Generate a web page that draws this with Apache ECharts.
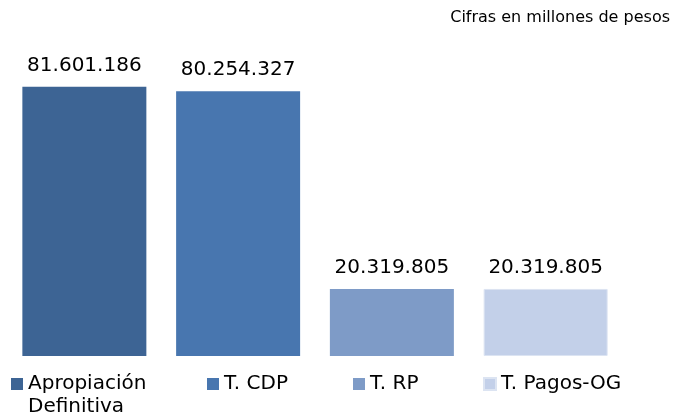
<!DOCTYPE html>
<html><head><meta charset="utf-8">
<script src="https://cdn.jsdelivr.net/npm/echarts@6/dist/echarts.min.js"></script>
<style>html,body{margin:0;padding:0;background:#fff}#c{width:673px;height:415px}</style>
</head><body><div id="c"></div>
<script>
const categories = ['Ejecución'];
const seriesNames = ['Apropiación Definitiva', 'T. CDP', 'T. RP', 'T. Pagos-OG'];
const seriesValues = [81601186, 80254327, 20319805, 20319805];
const valueLabels = ['81.601.186', '80.254.327', '20.319.805', '20.319.805'];
const colors = ['#3D6494', '#4876AF', '#7E9BC7', '#C3D0E9'];
const legendLeft = [11, 207, 353, 483];

const chart = echarts.init(document.getElementById('c'));
const series = seriesNames.map((n, i) => ({
  name: n, type: 'bar', data: [seriesValues[i]],
  barWidth: 124, barGap: '24%',
  itemStyle: { color: colors[i], borderColor: i === 3 ? '#DCE4F2' : colors[i], borderWidth: i === 3 ? 1 : 0 },
  label: { show: true, position: 'top', distance: 11, formatter: () => valueLabels[i],
    fontFamily: 'DejaVu Sans', fontSize: 20, color: '#000' }
}));
const legends = seriesNames.map((n, i) => ({
  data: [n], left: legendLeft[i], top: 374, padding: 0,
  itemWidth: 12, itemHeight: 12, icon: 'rect',
  formatter: nm => nm === 'Apropiación Definitiva' ? 'Apropiación' : nm,
  textStyle: { fontFamily: 'DejaVu Sans', fontSize: 20, color: '#000' }
}));
chart.setOption({
  animation: false,
  title: { text: 'Cifras en millones de pesos', right: 3, top: 10, padding: 0,
    textStyle: { fontFamily: 'DejaVu Sans', fontSize: 16, fontWeight: 'normal', color: '#000' } },
  legend: legends,
  graphic: [{ type: 'text', left: 28, top: 397,
    style: { text: 'Definitiva', fontFamily: 'DejaVu Sans', fontSize: 20, fill: '#000' } }],
  grid: { left: 0, width: 630, top: 59, height: 297 },
  xAxis: { type: 'category', data: categories, show: false },
  yAxis: { type: 'value', min: 0, max: 90000000, show: false },
  series
});
</script></body></html>
